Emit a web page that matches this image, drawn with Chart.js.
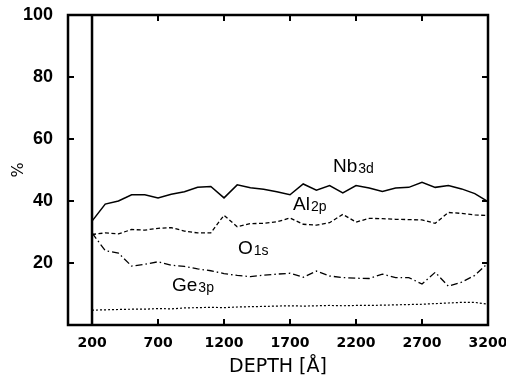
<!DOCTYPE html>
<html><head><meta charset="utf-8">
<script src="https://cdn.jsdelivr.net/npm/chart.js@4/dist/chart.umd.min.js"></script>
<style>html,body{margin:0;padding:0;background:#fff}#wrap{width:506px;height:379px}</style>
</head><body><div id="wrap"><canvas id="c" width="506" height="379"></canvas></div>
<script>
const depth = [200,300,400,500,600,700,800,900,1000,1100,1200,1300,1400,1500,1600,1700,1800,1900,2000,2100,2200,2300,2400,2500,2600,2700,2800,2900,3000,3100,3200];
const nb3d = [33.5,39,40,42,42,41,42.2,43,44.4,44.7,41,45.2,44.3,43.8,43,42,45.5,43.5,45,42.6,45,44.2,43.1,44.2,44.4,46,44.4,45,43.9,42.4,39.8];
const al2p = [29.2,29.7,29.4,30.8,30.6,31.2,31.4,30.3,29.7,29.7,35.4,31.7,32.7,32.8,33.3,34.5,32.5,32.2,33,35.7,33.2,34.4,34.3,34.1,34,33.9,32.8,36.3,36,35.5,35.3];
const o1s = [29.7,24,23.2,19,19.6,20.4,19.3,18.9,18.1,17.5,16.6,16,15.6,16.1,16.4,16.7,15.4,17.4,15.8,15.3,15.1,15,16.4,15.3,15.3,13.2,17,12.5,13.8,16,20];
const ge3p = [4.8,4.9,5,5.1,5.1,5.3,5.2,5.5,5.6,5.7,5.6,5.8,5.9,6,6.1,6.2,6.1,6.2,6.3,6.2,6.3,6.3,6.4,6.5,6.6,6.7,6.9,7.1,7.3,7.3,6.7];
const xTickValues = [200,700,1200,1700,2200,2700,3200];
const yTickValues = [20,40,60,80,100];
const seriesMain = ['Nb','Al','O','Ge'];
const seriesSub = ['3d','2p','1s','3p'];
const labelAnchorX = [2026,1723,1306,806];
const labelAnchorY = [49.2,37.1,22.8,11.1];

const pts = arr => arr.map((v,i)=>({x:depth[i], y:v}));

const framePlugin = {
  id:'frame',
  afterDatasetsDraw(chart){
    const {ctx, chartArea:{left,right,top,bottom}, scales:{x,y}} = chart;
    const line=(a,b,c,d)=>{ctx.beginPath();ctx.moveTo(a,b);ctx.lineTo(c,d);ctx.stroke();};
    ctx.save();
    ctx.strokeStyle='#000'; ctx.lineWidth=2.5; ctx.lineCap='butt';
    ctx.strokeRect(left,top,right-left,bottom-top);
    const vx = x.getPixelForValue(depth[0]);
    line(vx,top,vx,bottom);
    ctx.lineWidth=2;
    xTickValues.forEach(v=>{const px=x.getPixelForValue(v); if(px<=vx+3||px>=right-3) return; line(px,bottom,px,bottom-6); line(px,top,px,top+6);});
    yTickValues.forEach(v=>{const py=y.getPixelForValue(v); if(py<=top+3) return; line(left,py,left+6,py); line(right,py,right-6,py);});
    ctx.fillStyle='#000'; ctx.textBaseline='alphabetic'; ctx.textAlign='left';
    seriesMain.forEach((m,i)=>{
      const px=x.getPixelForValue(labelAnchorX[i]), py=y.getPixelForValue(labelAnchorY[i]);
      ctx.font='19px "Liberation Sans", Arial, sans-serif';
      ctx.fillText(m,px,py);
      const w=ctx.measureText(m).width;
      ctx.font='14px "Liberation Sans", Arial, sans-serif';
      ctx.fillText(seriesSub[i],px+w+1,py+1);
    });
    ctx.restore();
  }
};

const ds = (label,data,dash,w)=>({label,data:pts(data),borderColor:'#000',borderWidth:w,borderDash:dash,pointRadius:0,tension:0,fill:false});

new Chart(document.getElementById('c'),{
  type:'line',
  data:{datasets:[
    ds('Nb3d',nb3d,[],1.5),
    ds('Al2p',al2p,[4,2.5],1.3),
    ds('O1s',o1s,[7,3,1.5,3],1.3),
    ds('Ge3p',ge3p,[2,2],1.2)
  ]},
  options:{
    responsive:false, animation:false, devicePixelRatio:1,
    layout:{padding:0},
    plugins:{legend:{display:false},tooltip:{enabled:false}},
    scales:{
      x:{type:'linear',min:18,max:3200,
        afterFit(s){s.height=54; s.paddingLeft=0; s.paddingRight=18;},
        afterBuildTicks(s){s.ticks=xTickValues.map(v=>({value:v}));},
        grid:{display:false,drawTicks:false},border:{display:false},
        ticks:{padding:10,autoSkip:false,maxRotation:0,color:'#000',font:{family:'"DejaVu Sans"',weight:'bold',size:14},callback:v=>String(v)},
        title:{display:true,text:'DEPTH [Å]',color:'#000',font:{family:'"DejaVu Sans"',size:19,lineHeight:1.2},padding:{top:0,bottom:1}}
      },
      y:{type:'linear',min:0,max:100,
        afterFit(s){s.width=68; s.paddingTop=15; s.paddingBottom=0;},
        afterBuildTicks(s){s.ticks=yTickValues.map(v=>({value:v}));},
        grid:{display:false,drawTicks:false},border:{display:false},
        ticks:{padding:15,color:'#000',font:{family:'"Liberation Sans"',weight:'bold',size:18},callback:v=>String(v)},
        title:{display:true,text:'%',color:'#000',font:{family:'"DejaVu Sans"',size:16,lineHeight:1.2},padding:{top:9,bottom:0}}
      }
    }
  },
  plugins:[framePlugin]
});
</script></body></html>
